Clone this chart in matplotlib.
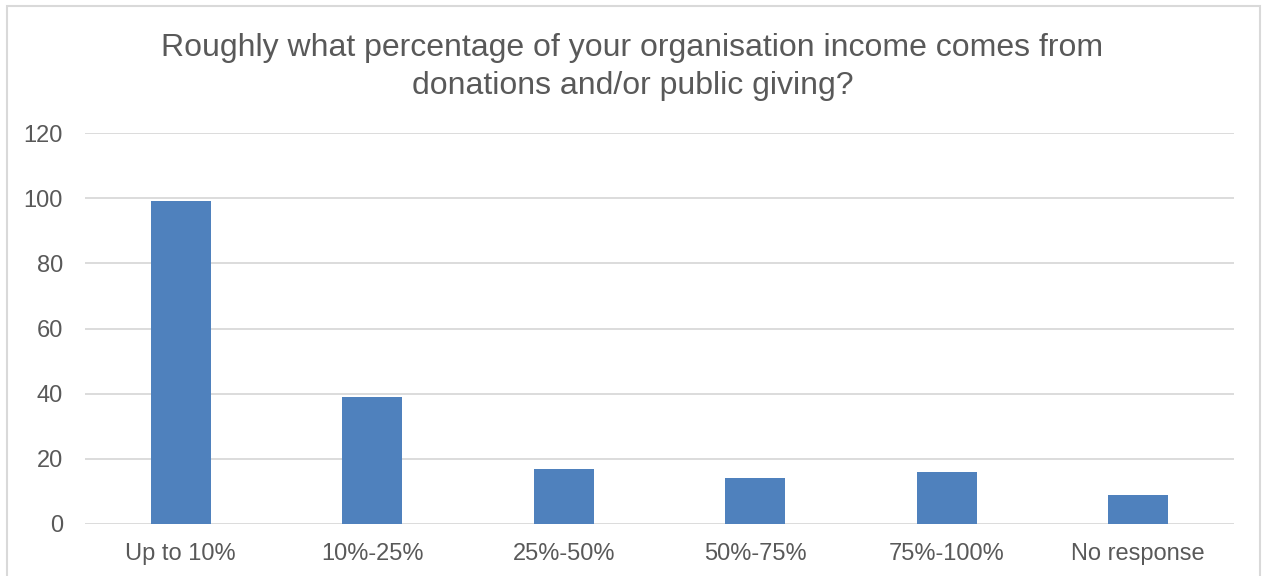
import numpy as np
import matplotlib
matplotlib.use("Agg")
from matplotlib import pyplot as plt
from matplotlib.patches import Rectangle

categories = ["Up to 10%", "10%-25%", "25%-50%", "50%-75%", "75%-100%", "No response"]
counts = [99, 39, 17, 14, 16, 9]
y_ticks = [0, 20, 40, 60, 80, 100, 120]

plt.rcParams['font.family'] = ['Liberation Sans', 'DejaVu Sans']
text_color = '#595959'
grid_color = '#d9d9d9'
bar_color = '#4f81bd'

fig = plt.figure(figsize=(12.65, 5.76), dpi=100)
ax = fig.add_axes([85 / 1265, 1 - 524 / 576, (1234 - 85) / 1265, (524 - 133) / 576])

x = np.arange(len(categories))
ax.bar(x, counts, width=0.313, color=bar_color, zorder=3)

ax.set_xlim(-0.5, len(categories) - 0.5)
ax.set_ylim(0, 120)
ax.set_yticks(y_ticks)
ax.set_xticks(x)
ax.set_xticklabels(categories)
ax.tick_params(axis='both', length=0, labelsize=17, colors=text_color)
ax.tick_params(axis='x', pad=14)
ax.tick_params(axis='y', pad=16)
ax.yaxis.grid(True, color=grid_color, linewidth=1.3, zorder=0)
for s in ax.spines.values():
    s.set_visible(False)

fig.text(0.5, 1 - 67 / 576, "Roughly what percentage of your organisation income comes from\ndonations and/or public giving?",
         ha='center', va='center', fontsize=23, color=text_color, linespacing=1.36)

# light outline round the chart area
fig.patches.append(Rectangle((7 / 1265, -0.05), (1260 - 7) / 1265, 1.05 - 6 / 576,
                             transform=fig.transFigure, fill=False,
                             edgecolor=grid_color, linewidth=1.5))

fig.savefig("out.png", dpi=100, facecolor='white')
